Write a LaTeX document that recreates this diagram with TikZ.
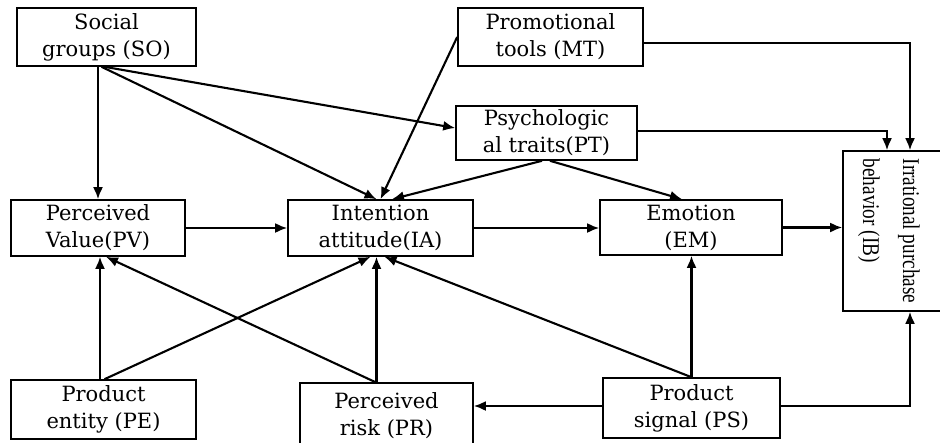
\documentclass[tikz,border=0pt]{standalone}
\usepackage{fontspec}
\setmainfont{DejaVu Serif}
\newfontfamily\ibfont{Liberation Serif}
\usepackage{tikz}
\usetikzlibrary{arrows.meta}
\usetikzlibrary{calc}
\tikzset{
    box/.style={draw, line width=1.6pt, inner sep=0pt, align=center, font=\fontsize{21}{27}\selectfont},
    conn/.style={-{Latex[length=12pt,width=10pt]}, line width=2.1pt}
}

\begin{document}
\begin{tikzpicture}[x=1pt,y=-1pt]
\useasboundingbox (0,0) rectangle (940,442);
\fill[white] (0,0) rectangle (940,442);
\foreach \p/\x/\y/\w/\h/\t in {SO/106.5/37/179/58/{Social\\groups (SO)}, MT/550.5/37/185/58/{Promotional\\tools (MT)}, PT/546.5/133/181/54/{Psychologic\\al traits(PT)}, PV/98/228/174/56/{Perceived\\Value(PV)}, IA/380.5/228/185/56/{Intention\\attitude(IA)}, EM/691/227.5/182/55/{Emotion\\(EM)}, PE/103.5/409.5/185/59/{Product\\entity (PE)}, PR/386.5/415.5/173/65/{Perceived\\risk (PR)}, PS/691.5/408/177/60/{Product\\signal (PS)}}{
    \node[box, minimum width=\w pt, minimum height=\h pt] (\p) at (\x,\y) {\t};
}
\node[box, minimum width=102pt, minimum height=160pt] (IB) at (894,231) {\rotatebox{-90}{\ibfont\fontsize{24}{40}\selectfont\scalebox{0.8}[1]{\begin{tabular}{@{}l@{}}Irrational purchase\\behavior (IB)\end{tabular}}}\hspace{6pt}};
% top row
\draw[conn] (SO.south -| PV.north) -- (PV.north);
\draw[conn] ([xshift=-5pt]SO.south) -- ([xshift=-4pt]IA.north);
\draw[conn] ([xshift=-2pt]SO.south) -- ([yshift=5pt]PT.west);
\draw[conn] (MT.west) -- (IA.north);
\draw[conn] ([xshift=-4.5pt]PT.south) -- ([xshift=11.5pt]IA.north);
\draw[conn] ([xshift=3.5pt]PT.south) -- ([xshift=-9pt]EM.north);
\draw[conn] ([yshift=2pt]PT.east) -| ([xshift=-7pt]IB.north);
\draw[conn] ([yshift=-6pt]MT.east) -| ([xshift=16pt]IB.north);
% middle row
\draw[conn] (PV.east) -- (PV.east -| IA.west);
\draw[conn] (IA.east) -- (IA.east -| EM.west);
\draw[conn] (EM.east) -- (EM.east -| IB.west);
% bottom row
\draw[conn] ([xshift=-3.5pt]PE.north) -- ([xshift=-3.5pt]PE.north |- PV.south);
\draw[conn] ([xshift=1pt]PE.north) -- ([xshift=-10pt]IA.south);
\draw[conn] ([xshift=-11pt]PR.north) -- ([xshift=8pt]PV.south);
\draw[conn] ([xshift=-10pt]PR.north) -- ([xshift=-10pt]PR.north |- IA.south);
\draw[conn] (PS.north) -- (PS.north |- EM.south);
\draw[conn] (PS.north) -- ([xshift=4pt]IA.south);
\draw[conn] ([yshift=2pt]PS.west) -- ([yshift=2pt]PS.west -| PR.east);
\draw[conn] ([yshift=2pt]PS.east) -| ([xshift=16pt]IB.south);
\end{tikzpicture}
\end{document}
